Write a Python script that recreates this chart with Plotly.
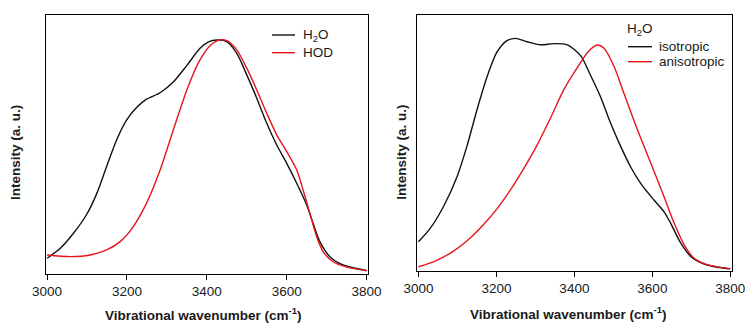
import plotly.graph_objects as go

# ---- data ----
h2o_x = [3000, 3033, 3066, 3099, 3124, 3149, 3174, 3199, 3224, 3249, 3283, 3316, 3350, 3383, 3404, 3425,
         3450, 3475, 3500, 3525, 3550, 3575, 3600, 3625, 3650, 3666, 3683, 3708, 3741, 3775, 3800]
h2o_y = [0.057, 0.100, 0.165, 0.246, 0.335, 0.453, 0.568, 0.654, 0.708, 0.744, 0.772, 0.818, 0.890, 0.964, 0.992, 1.0,
         0.993, 0.942, 0.849, 0.748, 0.640, 0.546, 0.467, 0.381, 0.287, 0.208, 0.129, 0.064, 0.028, 0.013, 0.004]

hod_x = [3000, 3058, 3108, 3149, 3183, 3216, 3249, 3283, 3316, 3350, 3380, 3408, 3433,
         3450, 3475, 3500, 3525, 3550, 3575, 3600, 3625, 3641, 3658, 3675, 3691, 3716, 3750, 3800]
hod_y = [0.071, 0.064, 0.071, 0.093, 0.129, 0.194, 0.295, 0.438, 0.611, 0.784, 0.905, 0.975, 1.0,
         0.997, 0.957, 0.878, 0.784, 0.683, 0.590, 0.518, 0.438, 0.352, 0.251, 0.150, 0.086, 0.042, 0.019, 0.003]

iso_x = [3000, 3030, 3064, 3099, 3124, 3150, 3176, 3202, 3227, 3249, 3279, 3313, 3347, 3382,
         3416, 3441, 3467, 3493, 3519, 3544, 3570, 3604, 3630, 3647, 3673, 3699, 3733, 3768, 3800]
iso_y = [0.119, 0.177, 0.271, 0.401, 0.531, 0.690, 0.834, 0.942, 0.990, 1.0, 0.985, 0.972, 0.977, 0.972,
         0.925, 0.841, 0.747, 0.632, 0.531, 0.444, 0.372, 0.300, 0.249, 0.199, 0.113, 0.055, 0.023, 0.009, 0.002]

aniso_x = [3000, 3047, 3090, 3133, 3167, 3202, 3236, 3270, 3305, 3339, 3373, 3412, 3437, 3459,
           3476, 3502, 3527, 3562, 3596, 3630, 3656, 3682, 3707, 3742, 3800]
aniso_y = [0.011, 0.039, 0.079, 0.136, 0.194, 0.263, 0.344, 0.436, 0.540, 0.656, 0.778, 0.885, 0.945, 0.971,
           0.957, 0.877, 0.762, 0.603, 0.459, 0.314, 0.199, 0.105, 0.048, 0.019, 0.003]

x_ticks = [3000, 3200, 3400, 3600, 3800]

legend_left = ["H<sub>2</sub>O", "HOD"]
legend_right_title = "H<sub>2</sub>O"
legend_right = ["isotropic", "anisotropic"]
x_title = "<b>Vibrational wavenumber (cm<sup>-1</sup>)</b>"
y_title = "<b>Intensity (a. u.)</b>"

BLACK = "#111111"
RED = "#e8141c"
TXT = "#1a1a1a"
FONT = "Liberation Sans, Arial, sans-serif"

W, H = 745, 323


def px_x(p):
    return p / W


def px_y(p):
    return 1 - p / H


fig = go.Figure()
line_kw = dict(width=1.4, shape="spline", smoothing=0.8)
fig.add_trace(go.Scatter(x=h2o_x, y=h2o_y, mode="lines", name=legend_left[0],
                         line=dict(color=BLACK, **line_kw), xaxis="x", yaxis="y"))
fig.add_trace(go.Scatter(x=hod_x, y=hod_y, mode="lines", name=legend_left[1],
                         line=dict(color=RED, **line_kw), xaxis="x", yaxis="y"))
fig.add_trace(go.Scatter(x=iso_x, y=iso_y, mode="lines", name=legend_right[0],
                         line=dict(color=BLACK, **line_kw), xaxis="x2", yaxis="y2"))
fig.add_trace(go.Scatter(x=aniso_x, y=aniso_y, mode="lines", name=legend_right[1],
                         line=dict(color=RED, **line_kw), xaxis="x2", yaxis="y2"))

xcommon = dict(showline=True, linecolor="black", linewidth=1, mirror=True,
               ticks="outside", ticklen=5, tickcolor="black", tickwidth=1,
               tickvals=x_ticks, ticktext=[str(t) for t in x_ticks],
               showgrid=False, zeroline=False, automargin=False,
               ticklabeloverflow="allow",
               tickfont=dict(size=13.5, color=TXT, family=FONT))
ycommon = dict(showline=True, linecolor="black", linewidth=1, mirror=True,
               ticks="", showticklabels=False, showgrid=False, zeroline=False,
               automargin=False)

annotations = []
shapes = []


def text(x, y, s, xanchor="center", angle=0, size=13.5):
    annotations.append(dict(x=px_x(x), y=px_y(y), xref="paper", yref="paper", text=s,
                            showarrow=False, xanchor=xanchor, yanchor="middle",
                            textangle=angle, font=dict(size=size, family=FONT, color=TXT)))


def legline(x0, x1, y, color):
    shapes.append(dict(type="line", xref="paper", yref="paper",
                       x0=px_x(x0), x1=px_x(x1), y0=px_y(y), y1=px_y(y),
                       line=dict(color=color, width=1.4)))


# axis titles
text(203, 314, x_title)
text(568, 313, x_title)
text(16, 153, y_title, angle=-90)
text(400.7, 152, y_title, angle=-90)

# left legend
legline(272, 295, 35, BLACK)
text(301, 35, legend_left[0], xanchor="left")
legline(272, 295, 52.7, RED)
text(301, 52.7, legend_left[1], xanchor="left")

# right legend
text(624.5, 30, legend_right_title, xanchor="left")
legline(628, 652, 46.7, BLACK)
text(657, 46.7, legend_right[0], xanchor="left")
legline(628, 652, 61.7, RED)
text(657, 61.7, legend_right[1], xanchor="left")

fig.update_layout(
    width=W, height=H,
    margin=dict(l=0, r=0, t=0, b=0, autoexpand=False),
    paper_bgcolor="white", plot_bgcolor="white",
    font=dict(family=FONT, size=13.5, color=TXT),
    xaxis=dict(domain=[px_x(45.7), px_x(368)], range=[2996.5, 3803.5], anchor="y", **xcommon),
    yaxis=dict(domain=[px_y(274), px_y(14.7)], range=[-0.011, 1.109], anchor="x", **ycommon),
    xaxis2=dict(domain=[px_x(416.7), px_x(731.7)], range=[2995.5, 3803.5], anchor="y2", **xcommon),
    yaxis2=dict(domain=[px_y(270.7), px_y(15)], range=[-0.006, 1.101], anchor="x2", **ycommon),
    showlegend=False,
    annotations=annotations,
    shapes=shapes,
)

fig.write_html("out.html")
